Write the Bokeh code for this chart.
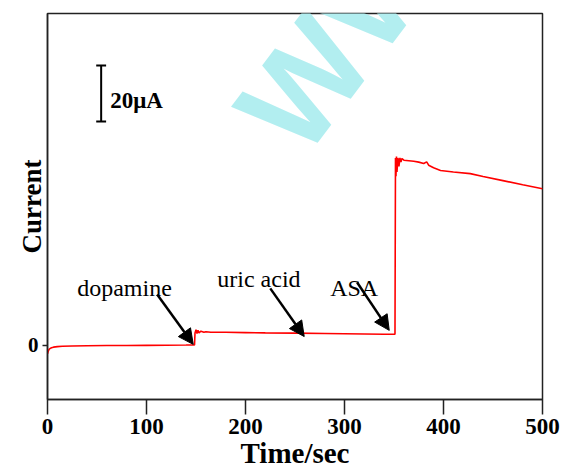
from bokeh.plotting import figure
from bokeh.models import Range1d, FixedTicker, Label, Arrow, NormalHead
from bokeh.embed import file_html
from bokeh.resources import INLINE

# ---- data ----
time_s = [0, 1, 2, 4, 6, 10, 15, 25, 40, 60, 80, 100, 120, 140, 148,
          148.5, 149, 150, 151, 152, 153, 155, 158, 160, 165, 170, 180,
          200, 220, 250, 280, 300, 320, 340, 351,
          351.5, 352, 352.5, 353, 354, 355, 356, 357, 358, 360, 365, 370,
          375, 380, 383, 385, 390, 397, 410, 427, 440, 460, 480, 500]
current_uA = [-3.0, -1.8, -1.2, -0.8, -0.6, -0.4, -0.3, -0.2, -0.1, 0.0, 0.0, 0.05, 0.1, 0.15, 0.2,
              0.2, 4.5, 5.6, 4.3, 5.4, 4.5, 5.1, 4.7, 4.9, 4.7, 4.7, 4.7,
              4.6, 4.5, 4.4, 4.3, 4.2, 4.1, 4.0, 4.0,
              67.0, 60.5, 67.5, 62.0, 67.0, 64.0, 67.0, 65.5, 66.8, 66.2, 66.0, 65.8,
              65.5, 65.0, 65.6, 64.4, 63.5, 62.5, 62.0, 61.4, 60.4, 58.9, 57.4, 56.0]

x_ticks = [0, 100, 200, 300, 400, 500]
y_ticks = [0]

# annotations: (text, x, y) and arrows (x_start, y_start, x_end, y_end)
ann_text = ["dopamine", "uric acid", "ASA"]
ann_x = [30, 171.5, 285.5]
ann_y = [20.7, 23.6, 20.7]
arrow_x0 = [110.8, 225.0, 312.8]
arrow_y0 = [18.2, 20.4, 22.5]
arrow_x1 = [147.2, 259.3, 345.2]
arrow_y1 = [0.4, 3.2, 5.4]

scale_value = 20  # µA
scale_label = "20\u03bcA"

SERIF = "Liberation Serif"

p = figure(width=564, height=474, output_backend="svg", toolbar_location=None,
           x_range=Range1d(0, 500), y_range=Range1d(-19.3, 118.6),
           min_border_left=47, min_border_right=22, min_border_top=13,
           min_border_bottom=75)
p.background_fill_color = "white"
p.border_fill_color = "white"
p.grid.visible = False
p.outline_line_color = "#222222"
p.outline_line_width = 1.5

# watermark
p.add_layout(Label(x=222, y=75.5, text="WWW", angle=53, angle_units="deg",
                   text_font="Liberation Sans", text_font_style="bold",
                   text_font_size="132px", text_color="#b2eef0",
                   text_align="left", text_baseline="alphabetic", level="underlay"))

# axes
for ax in (p.xaxis[0], p.yaxis[0]):
    ax.axis_line_color = "#222222"
    ax.axis_line_width = 1.5
    ax.major_tick_line_color = "#222222"
    ax.major_tick_line_width = 1.5
    ax.major_tick_in = 0
    ax.minor_tick_line_color = None
    ax.major_label_text_font = SERIF
    ax.major_label_text_font_style = "bold"
    ax.major_label_text_color = "black"
    ax.axis_label_text_font = SERIF
    ax.axis_label_text_font_style = "bold"
    ax.axis_label_text_color = "black"

p.xaxis.ticker = FixedTicker(ticks=x_ticks)
p.xaxis.major_tick_out = 15
p.xaxis.major_label_standoff = 4
p.xaxis.major_label_text_font_size = "23px"
p.xaxis.axis_label = "Time/sec"
p.xaxis.axis_label_text_font_size = "29px"
p.xaxis.axis_label_standoff = 0

p.yaxis.ticker = FixedTicker(ticks=y_ticks)
p.yaxis.major_tick_out = 5
p.yaxis.major_label_standoff = 4
p.yaxis.major_label_text_font_size = "21px"
p.yaxis.axis_label = "Current"
p.yaxis.axis_label_text_font_size = "27px"
p.yaxis.axis_label_standoff = -22

# data line
p.line(time_s, current_uA, line_color="#ff0000", line_width=1.6)

# annotations
for t, x, y in zip(ann_text, ann_x, ann_y):
    p.add_layout(Label(x=x, y=y, text=t, text_font=SERIF, text_font_size="24px",
                       text_align="left", text_baseline="alphabetic",
                       text_color="black"))
for x0, y0, x1, y1 in zip(arrow_x0, arrow_y0, arrow_x1, arrow_y1):
    p.add_layout(Arrow(x_start=x0, y_start=y0, x_end=x1, y_end=y1,
                       line_color="black", line_width=2.5,
                       end=NormalHead(size=15, fill_color="black",
                                      line_color="black")))

# scale bar
sb_x, sb_y0 = 54.2, 80.0
sb_cap = 5
p.segment(x0=[sb_x, sb_x - sb_cap, sb_x - sb_cap],
          y0=[sb_y0, sb_y0, sb_y0 + scale_value],
          x1=[sb_x, sb_x + sb_cap, sb_x + sb_cap],
          y1=[sb_y0 + scale_value, sb_y0, sb_y0 + scale_value],
          line_color="black", line_width=2)
p.add_layout(Label(x=63.3, y=87.5, text=scale_label, text_font=SERIF,
                   text_font_style="bold", text_font_size="23px",
                   text_align="left", text_baseline="middle", text_color="black"))

open("out.html", "w").write(file_html(p, INLINE))
